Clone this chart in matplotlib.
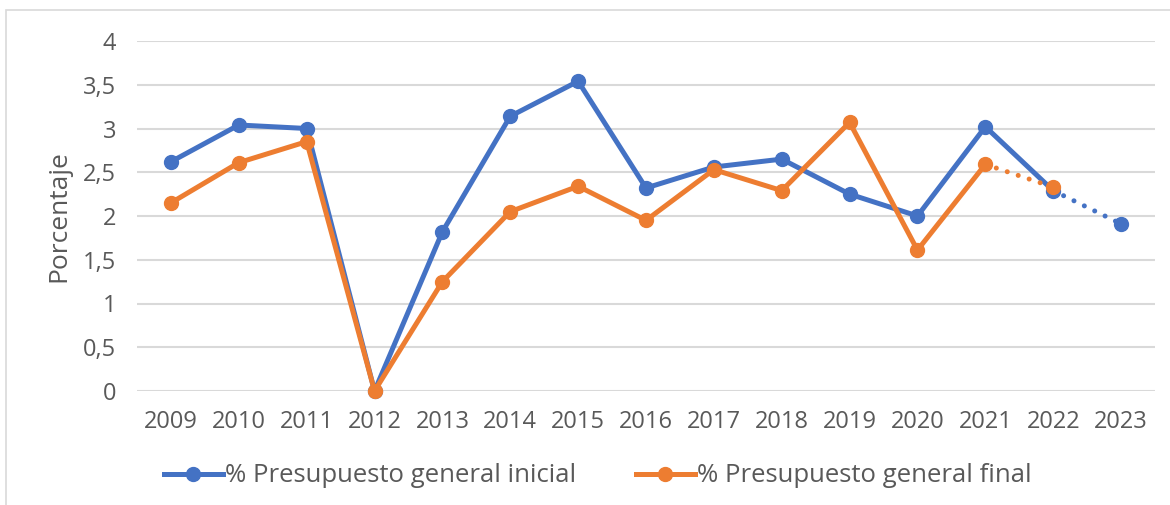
import matplotlib
matplotlib.use("Agg")
import matplotlib.pyplot as plt
from matplotlib.lines import Line2D
from matplotlib.patches import Rectangle

years = ["2009", "2010", "2011", "2012", "2013", "2014", "2015", "2016",
         "2017", "2018", "2019", "2020", "2021", "2022", "2023"]
inicial = [2.62, 3.04, 3.00, 0.0, 1.82, 3.14, 3.54, 2.32, 2.56, 2.65, 2.25, 2.00, 3.02, 2.29, 1.91]
final = [2.15, 2.61, 2.85, 0.0, 1.25, 2.05, 2.34, 1.95, 2.53, 2.29, 3.07, 1.61, 2.59, 2.33]
yticks = [0, 0.5, 1, 1.5, 2, 2.5, 3, 3.5, 4]
ytick_labels = ["0", "0,5", "1", "1,5", "2", "2,5", "3", "3,5", "4"]
label_ini = "% Presupuesto general inicial"
label_fin = "% Presupuesto general final"

BLUE = "#4472C4"
ORANGE = "#ED7D31"
TXT = "#595959"
GRID = "#D9D9D9"
FONT = "Open Sans"

W, H = 1170, 505
fig = plt.figure(figsize=(W / 100, H / 100), dpi=100)
fig.patches.append(Rectangle((6 / W, -0.01), 1.05, 1 - 10 / H + 0.01,
                             transform=fig.transFigure, fill=False,
                             edgecolor=GRID, linewidth=1.2))

ax = fig.add_axes([137 / W, 1 - 391 / H, (1155 - 137) / W, (391 - 41) / H])
x = list(range(len(years)))
lw = 3.6
ms = 10

# solid parts
n_ini_solid = 14  # through 2022
n_fin_solid = 13  # through 2021
ax.plot(x[:n_ini_solid], inicial[:n_ini_solid], color=BLUE, lw=lw, marker="o",
        ms=ms, solid_joinstyle="round", zorder=3, clip_on=False)
ax.plot(x[:n_fin_solid], final[:n_fin_solid], color=ORANGE, lw=lw, marker="o",
        ms=ms, solid_joinstyle="round", zorder=4, clip_on=False)
# dotted projections
ax.plot(x[n_ini_solid - 1:], inicial[n_ini_solid - 1:], color=BLUE, lw=lw,
        linestyle=(0, (0.01, 2.3)), dash_capstyle="round", zorder=3)
ax.plot(x[len(inicial) - 1:], inicial[len(inicial) - 1:], color=BLUE, marker="o",
        ms=ms, lw=0, zorder=3)
ax.plot(x[n_fin_solid - 1:len(final)], final[n_fin_solid - 1:], color=ORANGE, lw=lw,
        linestyle=(0, (0.01, 2.3)), dash_capstyle="round", zorder=4)
ax.plot(x[len(final) - 1:len(final)], final[len(final) - 1:], color=ORANGE, marker="o",
        ms=ms, lw=0, zorder=4)

ax.set_xlim(-0.5, len(years) - 0.5)
ax.set_ylim(0, 4)
ax.set_yticks(yticks)
ax.set_yticklabels(ytick_labels)
ax.set_xticks(x)
ax.set_xticklabels(years)
ax.yaxis.grid(True, color=GRID, lw=1.5)
ax.set_axisbelow(True)
for s in ax.spines.values():
    s.set_visible(False)
ax.tick_params(axis="both", length=0, labelsize=17, labelcolor=TXT)
ax.tick_params(axis="y", pad=15)
ax.tick_params(axis="x", pad=14)
for lab in ax.get_xticklabels() + ax.get_yticklabels():
    lab.set_fontfamily(FONT)
ax.set_ylabel("Porcentaje", fontsize=19, color=TXT, fontfamily=FONT, labelpad=8)

handles = [Line2D([], [], color=BLUE, lw=lw, marker="o", ms=ms),
           Line2D([], [], color=ORANGE, lw=lw, marker="o", ms=ms)]
fig.legend(handles, [label_ini, label_fin], loc="center", bbox_to_anchor=(0.511, 1 - 476 / H),
           ncol=2, frameon=False, prop={"family": FONT, "size": 18.5},
           labelcolor=TXT, handlelength=2.3, handletextpad=0.1, columnspacing=2.3)

fig.savefig("out.png", dpi=100)
